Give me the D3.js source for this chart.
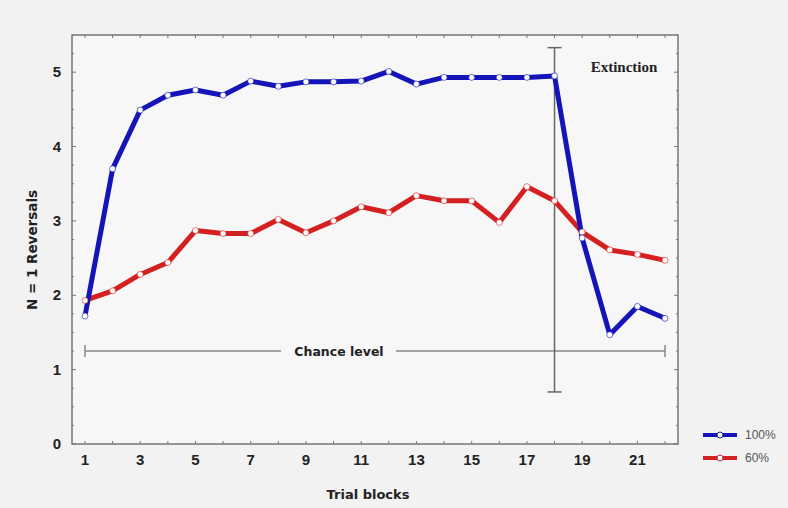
<!DOCTYPE html>
<html>
<head>
<meta charset="utf-8">
<script src="https://cdn.jsdelivr.net/npm/d3@7"></script>
<style>
  body { margin: 0; background: #f2f2f2; }
  text { font-family: "Liberation Sans", Arial, sans-serif; }
</style>
</head>
<body>
<div class="canvas"></div>
<script>
// data
const blocks = d3.range(1, 23);
const full = [1.72, 3.70, 4.49, 4.69, 4.76, 4.69, 4.88, 4.81, 4.87, 4.87, 4.88, 5.01,
  4.84, 4.93, 4.93, 4.93, 4.93, 4.95, 2.77, 1.47, 1.85, 1.69];
const partial = [1.93, 2.06, 2.28, 2.44, 2.87, 2.83, 2.83, 3.02, 2.84, 3.00, 3.19, 3.11,
  3.34, 3.27, 3.27, 2.98, 3.46, 3.27, 2.85, 2.61, 2.55, 2.47];
const seriesNames = ['100%', '60%'];
const xTickLabels = [1, 3, 5, 7, 9, 11, 13, 15, 17, 19, 21];
const yTickLabels = [0, 1, 2, 3, 4, 5];
const chanceLevel = 1.25;
const extinction = { block: 18, low: 0.7, high: 5.33 };

// chart dimensions
const dims = { width: 788, height: 508 };
const plot = { left: 72, top: 35, right: 678, bottom: 444 };
const boldFont = '"DejaVu Sans", Verdana, sans-serif';

const svg = d3.select('.canvas')
  .append('svg')
  .attr('width', dims.width)
  .attr('height', dims.height);

svg.append('rect')
  .attr('width', dims.width).attr('height', dims.height)
  .attr('fill', '#f2f2f2');

const x = d3.scaleLinear().domain([0.53, 22.47]).range([plot.left, plot.right]);
const y = d3.scaleLinear().domain([0, 5.5]).range([plot.bottom, plot.top]);

// plot background
svg.append('rect')
  .attr('x', plot.left).attr('y', plot.top)
  .attr('width', plot.right - plot.left).attr('height', plot.bottom - plot.top)
  .attr('fill', '#f7f7f7');

const axisColor = '#777';

// ticks on all four sides
const tickGroup = svg.append('g').attr('stroke', axisColor).attr('stroke-width', 1);
blocks.forEach(b => {
  tickGroup.append('line')
    .attr('x1', x(b)).attr('x2', x(b))
    .attr('y1', plot.bottom).attr('y2', plot.bottom - 3);
  tickGroup.append('line')
    .attr('x1', x(b)).attr('x2', x(b))
    .attr('y1', plot.top).attr('y2', plot.top + 3);
});
d3.range(0, 5.51, 0.25).forEach(v => {
  const len = Number.isInteger(v) ? 4 : 2;
  tickGroup.append('line')
    .attr('x1', plot.left).attr('x2', plot.left + len)
    .attr('y1', y(v)).attr('y2', y(v));
  tickGroup.append('line')
    .attr('x1', plot.right).attr('x2', plot.right - len)
    .attr('y1', y(v)).attr('y2', y(v));
});

// frame
svg.append('rect')
  .attr('x', plot.left).attr('y', plot.top)
  .attr('width', plot.right - plot.left).attr('height', plot.bottom - plot.top)
  .attr('fill', 'none')
  .attr('stroke', axisColor)
  .attr('stroke-width', 1.5);

// tick labels
svg.append('g').selectAll('text')
  .data(xTickLabels)
  .enter().append('text')
  .attr('x', d => x(d))
  .attr('y', plot.bottom + 21)
  .attr('text-anchor', 'middle')
  .attr('font-size', 15)
  .attr('font-weight', 'bold')
  .attr('fill', '#222')
  .text(d => d);

svg.append('g').selectAll('text')
  .data(yTickLabels)
  .enter().append('text')
  .attr('x', plot.left - 11)
  .attr('y', d => y(d) + 5)
  .attr('text-anchor', 'end')
  .attr('font-size', 15)
  .attr('font-weight', 'bold')
  .attr('fill', '#222')
  .text(d => d);

// axis titles
svg.append('text')
  .attr('x', 368).attr('y', 499)
  .attr('text-anchor', 'middle')
  .style('font-family', boldFont)
  .attr('font-size', 13).attr('font-weight', 'bold').attr('fill', '#222')
  .text('Trial blocks');

svg.append('text')
  .attr('transform', `translate(37, 250) rotate(-90)`)
  .attr('text-anchor', 'middle')
  .style('font-family', boldFont)
  .attr('font-size', 13.5).attr('font-weight', 'bold').attr('fill', '#222')
  .text('N = 1 Reversals');

// chance level line with gap for label
const refColor = '#888';
const chanceY = y(chanceLevel);
const ref = svg.append('g').attr('stroke', refColor).attr('stroke-width', 1.5);
ref.append('line').attr('x1', x(1)).attr('x2', 281).attr('y1', chanceY).attr('y2', chanceY);
ref.append('line').attr('x1', 396).attr('x2', x(22)).attr('y1', chanceY).attr('y2', chanceY);
[1, 22].forEach(b => {
  ref.append('line').attr('x1', x(b)).attr('x2', x(b))
    .attr('y1', chanceY - 6).attr('y2', chanceY + 6);
});
svg.append('text')
  .attr('x', 339).attr('y', chanceY + 5)
  .attr('text-anchor', 'middle')
  .style('font-family', boldFont)
  .attr('font-size', 12.5).attr('font-weight', 'bold').attr('fill', '#222')
  .text('Chance level');

// extinction marker
const exX = x(extinction.block);
const ex = svg.append('g').attr('stroke', '#666').attr('stroke-width', 1.5);
ex.append('line').attr('x1', exX).attr('x2', exX)
  .attr('y1', y(extinction.high)).attr('y2', y(extinction.low));
[extinction.high, extinction.low].forEach(v => {
  ex.append('line').attr('x1', exX - 7).attr('x2', exX + 7)
    .attr('y1', y(v)).attr('y2', y(v));
});
svg.append('text')
  .attr('x', 624).attr('y', 72)
  .attr('text-anchor', 'middle')
  .style('font-family', '"Liberation Serif", "Times New Roman", serif')
  .attr('font-size', 15).attr('font-weight', 'bold').attr('fill', '#222')
  .text('Extinction');

// lines
const line = d3.line()
  .x((d, i) => x(blocks[i]))
  .y(d => y(d));

const series = [
  { name: seriesNames[0], values: full, color: '#1414b8' },
  { name: seriesNames[1], values: partial, color: '#d42020' }
];

series.slice().reverse().forEach(s => {
  svg.append('path')
    .attr('d', line(s.values))
    .attr('fill', 'none')
    .attr('stroke', s.color)
    .attr('stroke-width', 5)
    .attr('stroke-linejoin', 'round');
});
series.slice().reverse().forEach(s => {
  svg.append('g').selectAll('circle')
    .data(s.values)
    .enter().append('circle')
    .attr('cx', (d, i) => x(blocks[i]))
    .attr('cy', d => y(d))
    .attr('r', 3)
    .attr('fill', '#fff')
    .attr('stroke', s.color)
    .attr('stroke-opacity', 0.6)
    .attr('stroke-width', 1);
});

// legend
const legend = svg.append('g').attr('transform', 'translate(703, 435)');
series.forEach((s, i) => {
  const g = legend.append('g').attr('transform', `translate(0, ${i * 23})`);
  g.append('line').attr('x1', 0).attr('x2', 34).attr('y1', 0).attr('y2', 0)
    .attr('stroke', s.color).attr('stroke-width', 4);
  g.append('circle').attr('cx', 17).attr('cy', 0).attr('r', 3)
    .attr('fill', '#fff').attr('stroke', s.color).attr('stroke-width', 1);
  g.append('text').attr('x', 42).attr('y', 4)
    .attr('font-size', 12).attr('fill', '#555')
    .text(s.name);
});
</script>
</body>
</html>
